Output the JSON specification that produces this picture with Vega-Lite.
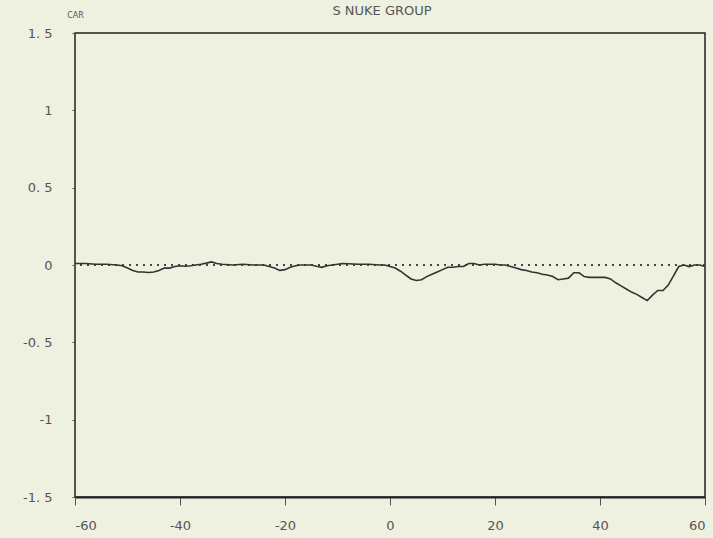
{
  "$schema": "https://vega.github.io/schema/vega-lite/v6.json",
  "width": 630,
  "height": 464,
  "autosize": {"type": "none"},
  "padding": {"left": 75, "top": 33, "right": 8, "bottom": 41},
  "background": "#eef0e0",
  "title": {
    "text": "S NUKE GROUP",
    "anchor": "middle",
    "offset": -7,
    "dx": -8,
    "font": "DejaVu Sans",
    "fontSize": 13,
    "fontWeight": "normal",
    "color": "#555555"
  },
  "config": {
    "view": {"stroke": "#222222", "strokeWidth": 1.5},
    "axis": {
      "grid": false,
      "domain": false,
      "labelFont": "DejaVu Sans",
      "labelFontSize": 13,
      "labelColor": "#555555",
      "tickColor": "#555555",
      "titleFont": "DejaVu Sans",
      "titleFontWeight": "normal",
      "titleColor": "#555555"
    }
  },
  "data": {
    "values": [
      {"day": -60, "car": 0.01}, {"day": -58, "car": 0.01}, {"day": -56, "car": 0.005},
      {"day": -54, "car": 0.005}, {"day": -52, "car": 0.0}, {"day": -51, "car": -0.005},
      {"day": -50, "car": -0.02}, {"day": -49, "car": -0.035}, {"day": -48, "car": -0.045},
      {"day": -47, "car": -0.045}, {"day": -46, "car": -0.048}, {"day": -45, "car": -0.045},
      {"day": -44, "car": -0.035}, {"day": -43, "car": -0.02}, {"day": -42, "car": -0.02},
      {"day": -41, "car": -0.01}, {"day": -40, "car": -0.005}, {"day": -39, "car": -0.008},
      {"day": -38, "car": -0.005}, {"day": -37, "car": 0.0}, {"day": -36, "car": 0.005},
      {"day": -35, "car": 0.012}, {"day": -34, "car": 0.02}, {"day": -33, "car": 0.01},
      {"day": -32, "car": 0.005}, {"day": -30, "car": 0.0}, {"day": -28, "car": 0.005},
      {"day": -26, "car": 0.0}, {"day": -24, "car": 0.0}, {"day": -23, "car": -0.01},
      {"day": -22, "car": -0.02}, {"day": -21, "car": -0.035}, {"day": -20, "car": -0.03},
      {"day": -19, "car": -0.015}, {"day": -18, "car": -0.005}, {"day": -17, "car": 0.0},
      {"day": -16, "car": 0.0}, {"day": -15, "car": 0.0}, {"day": -14, "car": -0.008},
      {"day": -13, "car": -0.015}, {"day": -12, "car": -0.005}, {"day": -11, "car": 0.0},
      {"day": -10, "car": 0.005}, {"day": -9, "car": 0.01}, {"day": -8, "car": 0.008},
      {"day": -6, "car": 0.005}, {"day": -4, "car": 0.005}, {"day": -2, "car": 0.0},
      {"day": -1, "car": 0.0}, {"day": 0, "car": -0.01}, {"day": 1, "car": -0.02},
      {"day": 2, "car": -0.04}, {"day": 3, "car": -0.065}, {"day": 4, "car": -0.09},
      {"day": 5, "car": -0.1}, {"day": 6, "car": -0.095}, {"day": 7, "car": -0.075},
      {"day": 8, "car": -0.06}, {"day": 9, "car": -0.045}, {"day": 10, "car": -0.03},
      {"day": 11, "car": -0.015}, {"day": 12, "car": -0.015}, {"day": 13, "car": -0.01},
      {"day": 14, "car": -0.01}, {"day": 15, "car": 0.01}, {"day": 16, "car": 0.01},
      {"day": 17, "car": 0.0}, {"day": 18, "car": 0.005}, {"day": 19, "car": 0.005},
      {"day": 20, "car": 0.005}, {"day": 21, "car": 0.0}, {"day": 22, "car": 0.0},
      {"day": 23, "car": -0.01}, {"day": 24, "car": -0.02}, {"day": 25, "car": -0.03},
      {"day": 26, "car": -0.035}, {"day": 27, "car": -0.045}, {"day": 28, "car": -0.05},
      {"day": 29, "car": -0.06}, {"day": 30, "car": -0.065}, {"day": 31, "car": -0.075},
      {"day": 32, "car": -0.095}, {"day": 33, "car": -0.09}, {"day": 34, "car": -0.085},
      {"day": 35, "car": -0.05}, {"day": 36, "car": -0.05}, {"day": 37, "car": -0.075},
      {"day": 38, "car": -0.08}, {"day": 39, "car": -0.08}, {"day": 40, "car": -0.08},
      {"day": 41, "car": -0.08}, {"day": 42, "car": -0.09}, {"day": 43, "car": -0.115},
      {"day": 44, "car": -0.135}, {"day": 45, "car": -0.155}, {"day": 46, "car": -0.175},
      {"day": 47, "car": -0.19}, {"day": 48, "car": -0.21}, {"day": 49, "car": -0.23},
      {"day": 50, "car": -0.195}, {"day": 51, "car": -0.165}, {"day": 52, "car": -0.165},
      {"day": 53, "car": -0.13}, {"day": 54, "car": -0.07}, {"day": 55, "car": -0.01},
      {"day": 56, "car": 0.0}, {"day": 57, "car": -0.01}, {"day": 58, "car": 0.0},
      {"day": 59, "car": 0.0}, {"day": 60, "car": -0.01}
    ]
  },
  "encoding": {
    "x": {
      "field": "day",
      "type": "quantitative",
      "scale": {"domain": [-60, 60], "nice": false, "zero": false},
      "axis": {
        "title": null,
        "values": [-60, -40, -20, 0, 20, 40, 60],
        "labelExpr": "replace(format(datum.value, ''), '\u2212', '-')",
        "tickSize": 8,
        "labelPadding": 14,
        "domain": true,
        "domainColor": "#222222",
        "domainWidth": 2
      }
    },
    "y": {
      "field": "car",
      "type": "quantitative",
      "scale": {"domain": [-1.5, 1.5], "nice": false},
      "axis": {
        "title": "CAR",
        "titleAngle": 0,
        "titleX": 0,
        "titleY": -18,
        "titleAlign": "center",
        "titleBaseline": "middle",
        "titleFontSize": 8,
        "values": [-1.5, -1, -0.5, 0, 0.5, 1, 1.5],
        "labelExpr": "replace(replace(format(datum.value, ''), '\u2212', '-'), '.', '. ')",
        "tickSize": 3,
        "labelPadding": 20
      }
    }
  },
  "layer": [
    {
      "mark": {"type": "rule", "color": "#444444", "strokeWidth": 1.5, "strokeDash": [2, 5]},
      "encoding": {"y": {"datum": 0}, "x": null}
    },
    {
      "mark": {"type": "line", "color": "#333333", "strokeWidth": 1.6}
    }
  ]
}
